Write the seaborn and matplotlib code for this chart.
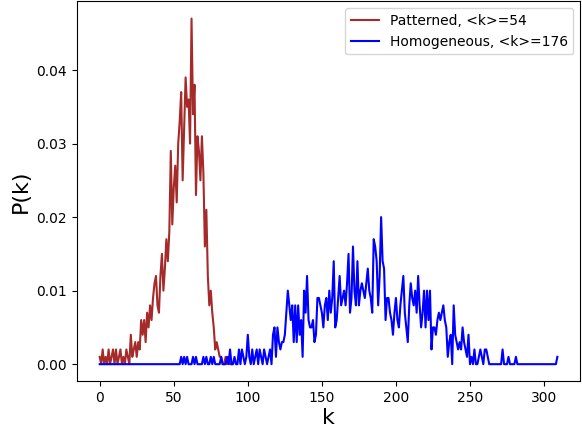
import numpy as np
import pandas as pd
from matplotlib import pyplot as plt
import seaborn as sns

# degree counts out of 1000 nodes
patterned = [1, 0, 2, 0, 1, 0, 2, 0, 1, 2,
             0, 2, 0, 1, 2, 0, 1, 0, 2, 1,
             0, 4, 1, 2, 3, 1, 3, 2, 6, 4,
             6, 3, 7, 5, 8, 6, 9, 11, 12, 8,
             7, 12, 15, 10, 13, 17, 14, 18, 29, 19,
             24, 27, 22, 30, 33, 37, 25, 32, 39, 35,
             36, 30, 47, 34, 38, 23, 31, 29, 25, 31,
             26, 16, 21, 12, 8, 10, 7, 5, 2, 3,
             2, 1, 1, 0, 0, 1, 0, 1, 0, 0]

homogeneous = [0, 0, 0, 0, 0, 0, 0, 0, 0, 0,
               0, 0, 0, 0, 0, 0, 0, 0, 0, 0,
               0, 0, 0, 0, 0, 0, 0, 0, 0, 0,
               0, 0, 0, 0, 0, 0, 0, 0, 0, 0,
               0, 0, 0, 0, 0, 0, 0, 0, 0, 0,
               0, 0, 0, 0, 0, 1, 0, 1, 0, 1,
               0, 0, 0, 1, 0, 1, 0, 0, 0, 0,
               1, 0, 1, 0, 0, 1, 0, 1, 0, 0,
               0, 0, 1, 0, 0, 0, 1, 0, 2, 0,
               0, 1, 0, 0, 2, 0, 2, 1, 0, 1,
               4, 1, 0, 2, 0, 1, 2, 0, 2, 1,
               0, 2, 1, 0, 1, 2, 0, 4, 5, 1,
               5, 3, 2, 3, 3, 4, 7, 10, 8, 6,
               8, 3, 8, 3, 8, 4, 6, 1, 10, 7,
               12, 6, 5, 5, 6, 3, 4, 9, 9, 8,
               7, 5, 8, 9, 6, 10, 7, 9, 14, 5,
               6, 9, 12, 8, 9, 10, 8, 11, 15, 7,
               9, 16, 10, 8, 14, 8, 10, 11, 10, 9,
               11, 13, 10, 9, 7, 17, 16, 14, 8, 12,
               20, 14, 13, 6, 9, 9, 7, 6, 4, 7,
               9, 6, 5, 8, 10, 12, 7, 5, 3, 8,
               11, 9, 8, 10, 7, 12, 8, 5, 7, 10,
               5, 10, 6, 10, 2, 5, 5, 4, 6, 7,
               6, 7, 8, 6, 5, 1, 3, 4, 0, 8,
               4, 3, 2, 3, 2, 5, 3, 2, 1, 4,
               0, 1, 0, 2, 0, 0, 1, 2, 1, 0,
               2, 2, 1, 0, 0, 0, 0, 0, 0, 0,
               0, 0, 2, 0, 0, 0, 1, 0, 0, 0,
               0, 1, 0, 0, 0, 0, 0, 0, 0, 0,
               0, 0, 0, 0, 0, 0, 0, 0, 0, 0,
               0, 0, 0, 0, 0, 0, 0, 0, 0, 1]

n_nodes = 1000

df_p = pd.DataFrame({'k': np.arange(len(patterned)), 'P': np.array(patterned) / n_nodes})
df_h = pd.DataFrame({'k': np.arange(len(homogeneous)), 'P': np.array(homogeneous) / n_nodes})

fig = plt.figure(figsize=(5.82, 4.32), dpi=100)
ax = fig.add_subplot(111)
sns.lineplot(data=df_p, x='k', y='P', color='brown', label='Patterned, <k>=54', ax=ax)
sns.lineplot(data=df_h, x='k', y='P', color='blue', label='Homogeneous, <k>=176', ax=ax)
ax.set_xlabel('k', fontsize=16, labelpad=2)
ax.set_ylabel('P(k)', fontsize=16)
ax.legend(loc='upper right')
plt.subplots_adjust(left=0.132, right=0.997, top=0.997, bottom=0.117)
plt.savefig('out.png', dpi=100)
